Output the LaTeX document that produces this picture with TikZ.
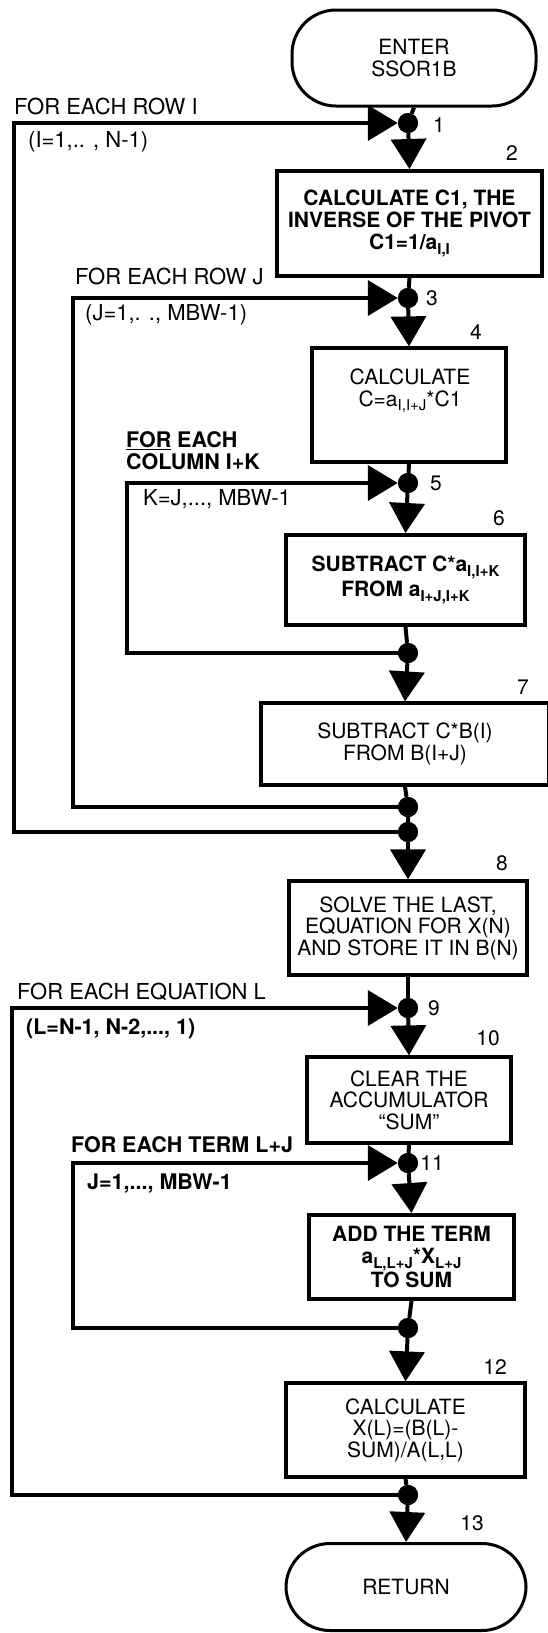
\documentclass[tikz,border=0pt]{standalone}
\usepackage{fontspec}
\setmainfont{TeX Gyre Heros}
\usetikzlibrary{arrows.meta}
\newcommand\lowsub[1]{\raisebox{-0.45ex}{\fontsize{15}{15}\selectfont #1}}
\tikzset{
  box/.style={draw, line width=3.2pt, inner sep=0pt, align=center, font=\fontsize{21}{21.5}\selectfont},
  boldbox/.style={box, line width=4pt, font=\fontsize{21}{22}\selectfont\bfseries},
  term/.style={draw, line width=3pt, rounded corners=44pt, inner sep=0pt, align=center, font=\fontsize{21}{21.5}\selectfont},
  dotn/.style={circle, fill, inner sep=0pt, minimum size=20pt},
  conn/.style={line width=4pt},
  arr/.style={conn, -{Triangle[length=30pt 0, width=35pt 0]}},
  lbl/.style={anchor=base west, inner sep=0pt, font=\fontsize{22}{22}\selectfont},
  blbl/.style={lbl, font=\fontsize{21.5}{22}\selectfont\bfseries},
  num/.style={inner sep=0pt, font=\fontsize{21}{21}\selectfont},
}
\begin{document}
\begin{tikzpicture}[x=1pt,y=-1pt]
\useasboundingbox (0,0) rectangle (547,1633);
% terminals and boxes
\node[term, minimum width=244pt, minimum height=96pt] (start) at (414,58) {ENTER\\SSOR1B};
\node[boldbox, minimum width=265pt, minimum height=105pt] (b2) at (409.5,223.5)
  {CALCULATE C1, THE\\INVERSE OF THE PIVOT\\C1=1/a\lowsub{I,I}};
\node[box, minimum width=194pt, minimum height=114pt] (b4) at (409,405) {};
\node[inner sep=0pt, align=center, font=\fontsize{21}{21.5}\selectfont] (t4) at (410,391)
  {CALCULATE\\C=a\lowsub{I,I+J}*C1};
\node[boldbox, minimum width=239pt, minimum height=90pt] (b6) at (405.5,580)
  {SUBTRACT C*a\lowsub{I,I+K}\\FROM a\lowsub{I+J,I+K}};
\node[box, minimum width=288pt, minimum height=82pt] (b7) at (405,744)
  {SUBTRACT C*B(I)\\FROM B(I+J)};
\node[box, minimum width=238pt, minimum height=94pt] (b8) at (408,928)
  {SOLVE THE LAST,\\EQUATION FOR X(N)\\AND STORE IT IN B(N)};
\node[box, minimum width=204pt, minimum height=86pt] (b10) at (409,1100)
  {CLEAR THE\\ACCUMULATOR\\“SUM”};
\node[boldbox, minimum width=205pt, minimum height=84pt] (b11) at (411.5,1257)
  {ADD THE TERM\\a\lowsub{L,L+J}*X\lowsub{L+J}\\TO SUM};
\node[box, minimum width=239pt, minimum height=94pt] (b12) at (405.5,1430)
  {CALCULATE\\X(L)=(B(L)-\\SUM)/A(L,L)};
\node[term, minimum width=240pt, minimum height=87pt] (ret) at (406,1587) {RETURN};
% junction dots
\node[dotn] (d1) at (408,123) {};
\node[dotn] (d3) at (408,298) {};
\node[dotn] (d5) at (408,483) {};
\node[dotn] (mK) at (408,653) {};
\node[dotn] (mJ) at (408,807) {};
\node[dotn] (mI) at (408,832) {};
\node[dotn] (d9) at (408,1008) {};
\node[dotn] (d11) at (408,1163) {};
\node[dotn] (m11) at (408,1328) {};
\node[dotn] (mL) at (408,1495) {};
% loop corners
\coordinate (iT) at (14,123);  \coordinate (iB) at (14,832);
\coordinate (jT) at (73,298);  \coordinate (jB) at (73,807);
\coordinate (kT) at (127,483); \coordinate (kB) at (127,653);
\coordinate (lT) at (12,1008); \coordinate (lB) at (12,1495);
\coordinate (tT) at (73,1163); \coordinate (tB) at (73,1328);
% main flow
\draw[conn] (start.south) -- (d1);
\draw[arr] (d1) -- (b2.north);
\draw[conn] (b2.south) -- (d3);
\draw[arr] (d3) -- (b4.north);
\draw[conn] (b4.south) -- (d5);
\draw[arr] (d5) -- (b6.north);
\draw[conn] (b6.south) -- (mK);
\draw[arr] (mK) -- (b7.north);
\draw[conn] (b7.south) -- (mJ) -- (mI);
\draw[arr] (mI) -- (b8.north);
\draw[conn] (b8.south) -- (d9);
\draw[arr] (d9) -- (b10.north);
\draw[conn] (b10.south) -- (d11);
\draw[arr] (d11) -- (b11.north);
\draw[conn] (b11.south) -- (m11);
\draw[arr] (m11) -- (b12.north);
\draw[conn] (b12.south) -- (mL);
\draw[arr] (mL) -- (ret.north);
% loops
\draw[arr, line join=miter] (mI.center) -- (iB) -- (iT) -- (d1.west);
\draw[arr, line join=miter] (mJ.center) -- (jB) -- (jT) -- (d3.west);
\draw[arr, line join=miter] (mK.center) -- (kB) -- (kT) -- (d5.west);
\draw[arr, line join=miter] (mL.center) -- (lB) -- (lT) -- (d9.west);
\draw[arr, line join=miter] (m11.center) -- (tB) -- (tT) -- (d11.west);
% redraw dots on top
\foreach \d in {d1,d3,d5,mK,mJ,mI,d9,d11,m11,mL} \fill (\d) circle (10pt);
% loop labels
\node[lbl] (lI1) at (14,114.5) {FOR EACH ROW I};
\node[lbl] (lI2) at (28,147.5) {(I=1,.. , N-1)};
\node[lbl] (lJ1) at (75,284.5) {FOR EACH ROW J};
\node[lbl] (lJ2) at (85,320.5) {(J=1,. ., MBW-1)};
\node[blbl] (lK1) at (126,447.5) {\underline{FOR} EACH};
\node[blbl] (lK2) at (126,469.5) {COLUMN I+K};
\node[lbl] (lK3) at (143,505.5) {K=J,..., MBW-1};
\node[lbl] (lL1) at (17,999.5) {FOR EACH EQUATION L};
\node[blbl] (lL2) at (26,1034.5) {(L=N-1, N-2,..., 1)};
\node[blbl] (lT1) at (71,1152.5) {FOR EACH TERM L+J};
\node[blbl] (lT2) at (87,1189.5) {J=1,..., MBW-1};
% step numbers
\node[num] (n1) at (439,125) {1};
\node[num] (n2) at (512,153) {2};
\node[num] (n3) at (432,298) {3};
\node[num] (n4) at (476,332) {4};
\node[num] (n5) at (436,483) {5};
\node[num] (n6) at (499,518) {6};
\node[num] (n7) at (523,687) {7};
\node[num] (n8) at (502,863) {8};
\node[num] (n9) at (434,1008) {9};
\node[num] (n10) at (488,1038) {10};
\node[num] (n11) at (432,1163) {11};
\node[num] (n12) at (495,1367) {12};
\node[num] (n13) at (472,1523) {13};
\end{tikzpicture}
\end{document}
